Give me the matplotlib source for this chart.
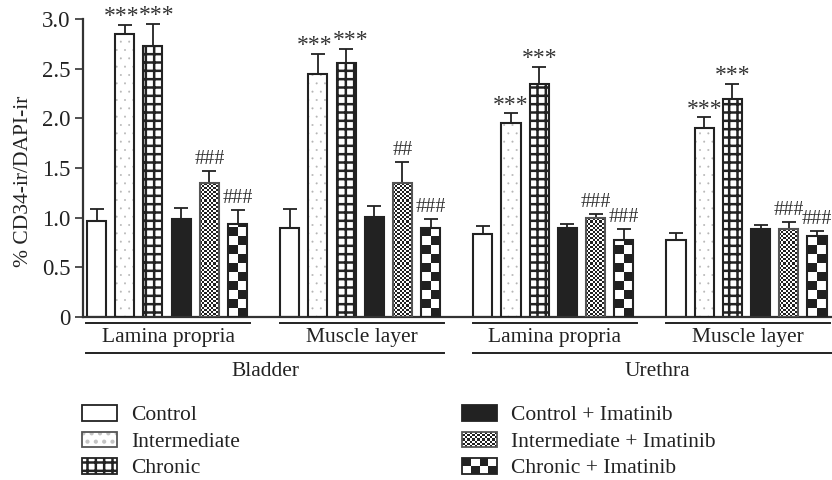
import numpy as np
import matplotlib
matplotlib.use('Agg')
import matplotlib.pyplot as plt
from matplotlib.patches import Patch, Rectangle
from matplotlib.legend_handler import HandlerBase

plt.rcParams['font.family'] = ['Liberation Serif', 'DejaVu Serif']
plt.rcParams['hatch.linewidth'] = 1.8

# данные
subgroups = ['Lamina propria', 'Muscle layer', 'Lamina propria', 'Muscle layer']
organs = ['Bladder', 'Urethra']
series = ['Control', 'Intermediate', 'Chronic',
          'Control + Imatinib', 'Intermediate + Imatinib', 'Chronic + Imatinib']

control = [0.97, 0.90, 0.84, 0.78]
control_sem = [0.12, 0.19, 0.08, 0.07]
intermediate = [2.85, 2.45, 1.95, 1.90]
intermediate_sem = [0.09, 0.20, 0.10, 0.11]
chronic = [2.73, 2.56, 2.35, 2.19]
chronic_sem = [0.22, 0.14, 0.17, 0.16]
control_imat = [0.99, 1.01, 0.90, 0.89]
control_imat_sem = [0.11, 0.11, 0.04, 0.04]
intermediate_imat = [1.35, 1.35, 1.00, 0.89]
intermediate_imat_sem = [0.12, 0.21, 0.04, 0.07]
chronic_imat = [0.94, 0.90, 0.78, 0.82]
chronic_imat_sem = [0.14, 0.09, 0.11, 0.05]

marks_inter = ['***', '***', '***', '***']
marks_chronic = ['***', '***', '***', '***']
marks_inter_imat = ['###', '##', '###', '###']
marks_chronic_imat = ['###', '###', '###', '###']

values = [control, intermediate, chronic, control_imat, intermediate_imat, chronic_imat]
sems = [control_sem, intermediate_sem, chronic_sem, control_imat_sem,
        intermediate_imat_sem, chronic_imat_sem]
marks = [None, marks_inter, marks_chronic, None, marks_inter_imat, marks_chronic_imat]

GROUP_STEP = 6.85
WIDTH = 0.68
DARK = '#222222'
DOTS = '#b5b5b5'
FS = 15.5

fig = plt.figure(figsize=(8.32, 4.8), dpi=100)
ax = fig.add_axes([83 / 832, 163 / 480, 749 / 832, 298 / 480])


def checker(ax, bars, cell_w, cell_h):
    # шахматная заливка, обрезанная по прямоугольнику столбика
    for b in bars:
        x0, w, h = b.get_x(), b.get_width(), b.get_height()
        nx = max(1, int(round(w / cell_w)))
        ny = int(np.ceil(h / cell_h))
        arr = (np.add.outer(np.arange(ny), np.arange(nx)) % 2).astype(float)
        im = ax.imshow(arr, cmap='gray_r', vmin=0, vmax=1.15, origin='lower',
                       extent=(x0, x0 + w, 0, ny * cell_h), aspect='auto',
                       interpolation='nearest', zorder=2.5)
        im.set_clip_path(b)


tops = []
for s in range(6):
    x = np.arange(4) * GROUP_STEP + s
    v = np.array(values[s])
    e = np.array(sems[s])
    tops.append(v + e)
    ax.errorbar(x, v, yerr=[np.zeros(4), e], fmt='none', ecolor=DARK,
                elinewidth=1.3, capsize=5, capthick=1.3, zorder=1)
    if s == 0:
        ax.bar(x, v, WIDTH, color='white', edgecolor=DARK, linewidth=1.5, zorder=2)
    elif s == 1:
        plt.rcParams['hatch.linewidth'] = 0.2
        ax.bar(x, v, WIDTH, color='white', edgecolor=DOTS, hatch='..',
               linewidth=0, zorder=2)
        ax.bar(x, v, WIDTH, fill=False, edgecolor=DARK, linewidth=1.5, zorder=3)
    elif s == 2:
        plt.rcParams['hatch.linewidth'] = 1.8
        ax.bar(x, v, WIDTH, color='white', edgecolor=DARK, hatch='++',
               linewidth=1.5, zorder=2)
    elif s == 3:
        ax.bar(x, v, WIDTH, color=DARK, edgecolor=DARK, linewidth=1.5, zorder=2)
    elif s == 4:
        bars = ax.bar(x, v, WIDTH, color='white', linewidth=0, zorder=2)
        checker(ax, bars, 0.072, 0.021)
        ax.bar(x, v, WIDTH, fill=False, edgecolor='#555555', linewidth=1.5, zorder=3)
    else:
        bars = ax.bar(x, v, WIDTH, color='white', linewidth=0, zorder=2)
        checker(ax, bars, WIDTH / 2, 0.09)
        ax.bar(x, v, WIDTH, fill=False, edgecolor=DARK, linewidth=1.5, zorder=3)

# звёздочки и решётки над столбиками
for s in range(6):
    if marks[s] is None:
        continue
    x = np.arange(4) * GROUP_STEP + s
    for g, (xi, top, m) in enumerate(zip(x, tops[s], marks[s])):
        dx = 0
        if s == 1 and abs(tops[1][g] - tops[2][g]) < 0.3:
            dx = -2.5
        if s == 2 and abs(tops[1][g] - tops[2][g]) < 0.3:
            dx = 3
        if m.startswith('*'):
            ax.annotate(m, (xi, top), xytext=(dx, -1.8), textcoords='offset points',
                        ha='center', va='bottom', fontsize=17, color='#333333',
                        annotation_clip=False)
        else:
            ax.annotate(m, (xi, top), xytext=(dx, 1.2), textcoords='offset points',
                        ha='center', va='bottom', fontsize=FS - 1, color='#333333',
                        annotation_clip=False)

ax.set_xlim(-0.479, 26.08)
ax.set_ylim(0, 3.0)
ax.set_yticks([0, 0.5, 1.0, 1.5, 2.0, 2.5, 3.0])
ax.set_yticklabels(['0', '0.5', '1.0', '1.5', '2.0', '2.5', '3.0'])
ax.tick_params(axis='y', direction='out', length=6, width=1.2, colors='#333333',
               labelsize=16.5, labelcolor=DARK, pad=3)
ax.set_xticks([])
for sp in ['top', 'right']:
    ax.spines[sp].set_visible(False)
for sp in ['left', 'bottom']:
    ax.spines[sp].set_linewidth(1.6)
    ax.spines[sp].set_color('#333333')

ax.set_ylabel('% CD34-ir/DAPI-ir', fontsize=FS, color=DARK)
ax.yaxis.set_label_coords(-0.067, 0.455)

# подписи групп под осью
tr = ax.get_xaxis_transform()
for g in range(4):
    x0 = g * GROUP_STEP - WIDTH / 2 - 0.02
    x1 = g * GROUP_STEP + 5 + WIDTH / 2 + 0.12
    ax.plot([x0, x1], [-0.019, -0.019], transform=tr, clip_on=False, color=DARK, lw=1.4)
    ax.text((x0 + x1) / 2, -0.068, subgroups[g], transform=tr, ha='center', va='center',
            fontsize=FS, color=DARK)
for o in range(2):
    x0 = 2 * o * GROUP_STEP - WIDTH / 2 - 0.02
    x1 = (2 * o + 1) * GROUP_STEP + 5 + WIDTH / 2 + 0.12 + 0.4 * o
    ax.plot([x0, x1], [-0.121, -0.121], transform=tr, clip_on=False, color=DARK, lw=1.4)
    ax.text((x0 + x1) / 2, -0.182, organs[o], transform=tr, ha='center', va='center',
            fontsize=FS, color=DARK)


class CheckerHandler(HandlerBase):
    def __init__(self, nx, ny, edge):
        super().__init__()
        self.nx, self.ny, self.edge = nx, ny, edge

    def create_artists(self, legend, orig_handle, xdescent, ydescent, width, height,
                       fontsize, trans):
        arts = []
        cw, ch = width / self.nx, height / self.ny
        for i in range(self.nx):
            for j in range(self.ny):
                c = DARK if (i + j) % 2 else 'white'
                arts.append(Rectangle((-xdescent + i * cw, -ydescent + j * ch), cw, ch,
                                      facecolor=c, edgecolor='none', transform=trans))
        arts.append(Rectangle((-xdescent, -ydescent), width, height, fill=False,
                              edgecolor=self.edge, lw=1.3, transform=trans))
        return arts


plt.rcParams['hatch.linewidth'] = 0.1
h_inter = (Patch(facecolor='white', edgecolor='#c4c4c4', hatch='..', lw=0),
           Patch(fill=False, edgecolor='#555555', lw=1.3))
plt.rcParams['hatch.linewidth'] = 1.8
h_control = Patch(facecolor='white', edgecolor=DARK, lw=1.3)
h_chronic = Patch(facecolor='white', edgecolor=DARK, hatch='++', lw=1.3)
h_ci = Patch(facecolor=DARK, edgecolor=DARK, lw=1.3)
h_ii = Patch(facecolor='white')
h_chi = Patch(facecolor='black')

common = dict(frameon=False, fontsize=FS, handlelength=1.63, handleheight=0.74,
              handletextpad=0.65, labelspacing=0.29, borderpad=0, borderaxespad=0,
              loc='upper left', labelcolor=DARK)
fig.legend([h_control, h_inter, h_chronic], series[:3],
           bbox_to_anchor=(82 / 832, 1 - 405 / 480), **common)
fig.legend([h_ci, h_ii, h_chi], series[3:],
           bbox_to_anchor=(462 / 832, 1 - 405 / 480),
           handler_map={h_ii: CheckerHandler(14, 7, '#555555'),
                        h_chi: CheckerHandler(4, 2, DARK)}, **common)

fig.savefig('out.png', dpi=100)
